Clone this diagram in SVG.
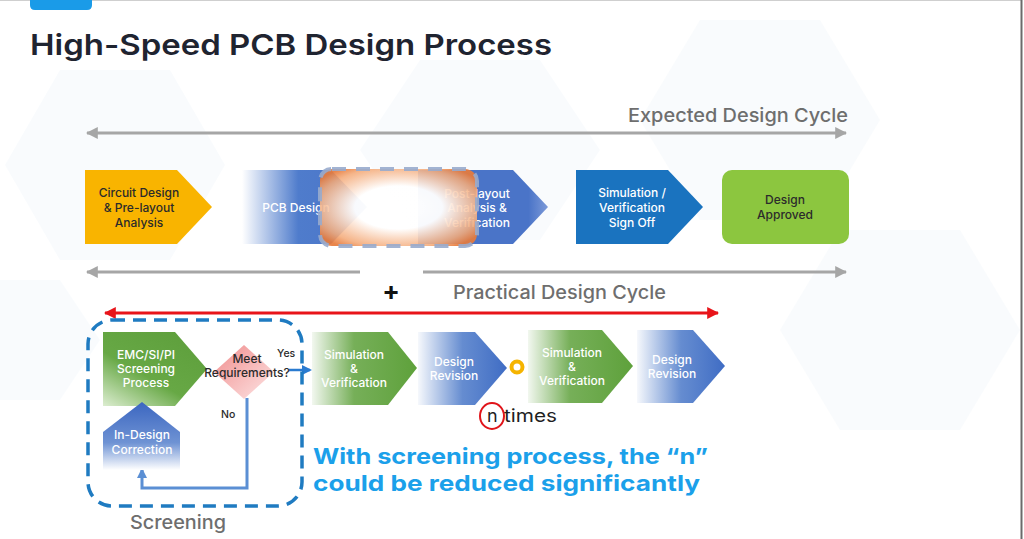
<svg xmlns="http://www.w3.org/2000/svg" width="1024" height="539" viewBox="0 0 1024 539">
<defs>
<style>
.t{font-family:Inter,"Open Sans","Liberation Sans",sans-serif;}
.lbl{font-family:Inter,"Liberation Sans",sans-serif;font-size:12px;font-weight:500;text-anchor:middle;}
.w{fill:#ffffff;}
.d{fill:#2b2b2b;}
.grey{fill:#6e6e6e;font-family:Inter,"Liberation Sans",sans-serif;font-weight:500;}
.garrow{stroke:#a6a6a6;stroke-width:3;fill:none;}
.hex{fill:#eaf3f9;opacity:0.3;}
</style>
<marker id="ga" viewBox="0 0 10 10" refX="9" refY="5" markerWidth="4" markerHeight="4" orient="auto-start-reverse" markerUnits="strokeWidth"><path d="M0,0 L10,5 L0,10 Z" fill="#a6a6a6"/></marker>
<marker id="ra" viewBox="0 0 10 10" refX="9" refY="5" markerWidth="4" markerHeight="4" orient="auto-start-reverse" markerUnits="strokeWidth"><path d="M0,0 L10,5 L0,10 Z" fill="#e8141a"/></marker>
<marker id="ba" viewBox="0 0 10 10" refX="8" refY="5" markerWidth="3.5" markerHeight="3.5" orient="auto" markerUnits="strokeWidth"><path d="M0,0 L10,5 L0,10 Z" fill="#5b8fd4"/></marker>
<marker id="ya" viewBox="0 0 10 10" refX="8" refY="5" markerWidth="4" markerHeight="4" orient="auto" markerUnits="strokeWidth"><path d="M0,0 L10,5 L0,10 Z" fill="#2a7bd0"/></marker>
<linearGradient id="gPcb" x1="0" y1="0" x2="1" y2="0"><stop offset="0" stop-color="#4f7ccc" stop-opacity="0"/><stop offset="0.45" stop-color="#4f7ccc"/><stop offset="1" stop-color="#4a74c8"/></linearGradient>
<linearGradient id="gPost" x1="0" y1="0" x2="1" y2="0"><stop offset="0" stop-color="#4a74c8"/><stop offset="0.85" stop-color="#4a74c8"/><stop offset="1" stop-color="#7d9ad8"/></linearGradient>
<linearGradient id="gGreen" x1="0" y1="0" x2="1" y2="0"><stop offset="0" stop-color="#5ea13b" stop-opacity="0.08"/><stop offset="0.4" stop-color="#5ea13b" stop-opacity="0.85"/><stop offset="1" stop-color="#5ea13b"/></linearGradient>
<linearGradient id="gBlue" x1="0" y1="0" x2="1" y2="0"><stop offset="0" stop-color="#4a78c8" stop-opacity="0.05"/><stop offset="0.5" stop-color="#4a78c8" stop-opacity="0.85"/><stop offset="1" stop-color="#3f6cc4"/></linearGradient>
<linearGradient id="gEmc" x1="0.8" y1="0" x2="0" y2="1"><stop offset="0" stop-color="#5e9f3c"/><stop offset="0.55" stop-color="#67a845"/><stop offset="1" stop-color="#dcedd0"/></linearGradient>
<linearGradient id="gInd" x1="0" y1="0" x2="0" y2="1"><stop offset="0" stop-color="#3b66c0"/><stop offset="0.6" stop-color="#6f93d4"/><stop offset="1" stop-color="#ffffff"/></linearGradient>
<linearGradient id="gPink" x1="0" y1="0" x2="1" y2="1"><stop offset="0" stop-color="#f08c8c"/><stop offset="1" stop-color="#fde6e6"/></linearGradient>
<radialGradient id="gBox" cx="0.5" cy="0.5" r="0.62"><stop offset="0" stop-color="#ffffff" stop-opacity="1"/><stop offset="0.45" stop-color="#ffffff" stop-opacity="0.96"/><stop offset="0.85" stop-color="#f4ab7a" stop-opacity="0.88"/><stop offset="1" stop-color="#e77b3c" stop-opacity="0.92"/></radialGradient>
</defs>

<rect x="0" y="0" width="1024" height="539" fill="#ffffff"/>
<g id="background">
<polygon class="hex" points="60,70 170,70 225,165 170,260 60,260 5,165"/>
<polygon class="hex" points="420,60 540,60 600,150 540,240 420,240 360,150"/>
<polygon class="hex" points="700,20 820,20 880,120 820,220 700,220 640,120"/>
<polygon class="hex" points="840,230 960,230 1020,330 960,430 840,430 780,330"/>
<polygon class="hex" points="0,280 60,280 100,340 60,400 0,400"/>
<line x1="0" y1="0.5" x2="1022" y2="0.5" stroke="#cfcfcf" stroke-width="1"/>
<line x1="1021.5" y1="0" x2="1021.5" y2="539" stroke="#6a6a6a" stroke-width="2"/>
</g>

<g id="header">
<path d="M30,0 H92 V5 Q92,10 87,10 H35 Q30,10 30,5 Z" fill="#1a9be8"/>
<text class="t" x="30" y="55" font-size="29" font-weight="600" fill="#1f2430" textLength="522" lengthAdjust="spacingAndGlyphs">High-Speed PCB Design Process</text>
</g>

<g id="connectors">
<line class="garrow" x1="87" y1="133" x2="846" y2="133" marker-start="url(#ga)" marker-end="url(#ga)"/>
<line class="garrow" x1="87" y1="272" x2="360" y2="272" marker-start="url(#ga)"/>
<line class="garrow" x1="423" y1="272" x2="846" y2="272" marker-end="url(#ga)"/>
<line x1="105" y1="313" x2="718" y2="313" stroke="#e8141a" stroke-width="3" marker-start="url(#ra)" marker-end="url(#ra)"/>
<path d="M247,398 V488 H142 V470" fill="none" stroke="#5b8fd4" stroke-width="3" marker-end="url(#ba)"/>
<line x1="289" y1="370" x2="310" y2="370" stroke="#2a7bd0" stroke-width="2.5" marker-end="url(#ya)"/>
</g>

<g id="labels">
<text class="grey" x="848" y="122" font-size="19" text-anchor="end" textLength="220" lengthAdjust="spacingAndGlyphs">Expected Design Cycle</text>
<text class="t" x="391" y="300" font-size="26" font-weight="700" fill="#111" text-anchor="middle">+</text>
<text class="grey" x="453" y="299" font-size="18.5" textLength="213" lengthAdjust="spacingAndGlyphs">Practical Design Cycle</text>
<text class="grey" x="130" y="529" font-size="19" textLength="96" lengthAdjust="spacingAndGlyphs">Screening</text>
</g>

<g id="n1-circuit">
<path d="M85,170 H177 L212,207 L177,244 H85 Z" fill="#f9b400"/>
<text class="lbl d" x="139" y="197">Circuit Design</text>
<text class="lbl d" x="139" y="212">&amp; Pre-layout</text>
<text class="lbl d" x="139" y="227">Analysis</text>
</g>

<g id="n2-pcb">
<path d="M242,170 H331 L367,207 L331,244 H242 Z" fill="url(#gPcb)"/>
<text class="lbl w" x="296" y="212">PCB Design</text>
</g>

<g id="n3-post">
<path d="M418,170 H513 L548,207 L513,244 H418 Z" fill="url(#gPost)"/>
<text class="lbl w" x="477" y="198">Post-layout</text>
<text class="lbl w" x="477" y="212">Analysis &amp;</text>
<text class="lbl w" x="477" y="227">Verification</text>
</g>

<g id="highlight-box">
<rect x="320" y="169" width="157" height="77" rx="12" fill="url(#gBox)" stroke="#98abcd" stroke-width="4" stroke-dasharray="14 10" stroke-opacity="0.9"/>
</g>

<g id="n4-signoff">
<path d="M576,170 H668 L703,207 L668,244 H576 Z" fill="#1a73bf"/>
<text class="lbl w" x="632" y="197">Simulation /</text>
<text class="lbl w" x="632" y="212">Verification</text>
<text class="lbl w" x="632" y="227">Sign Off</text>
</g>

<g id="n5-approved">
<rect x="722" y="170" width="127" height="74" rx="10" fill="#8cc63f"/>
<text class="lbl d" x="785" y="204" font-size="12.5">Design</text>
<text class="lbl d" x="785" y="219" font-size="12.5">Approved</text>
</g>

<g id="screening-box">
<rect x="88" y="320" width="214" height="186" rx="24" fill="none" stroke="#1f7bc1" stroke-width="3.5" stroke-dasharray="13 8"/>
</g>

<g id="n6-emc">
<path d="M103,332 H175 L207,369 L175,406 H103 Z" fill="url(#gEmc)"/>
<text class="lbl w" x="146" y="359">EMC/SI/PI</text>
<text class="lbl w" x="146" y="373">Screening</text>
<text class="lbl w" x="146" y="387">Process</text>
</g>

<g id="n7-meet">
<polygon points="244,345 274,372 244,399 214,372" fill="url(#gPink)"/>
<text class="lbl d" x="247" y="363" font-size="11">Meet</text>
<text class="lbl d" x="247" y="377" font-size="11">Requirements?</text>
<text class="t d" x="277" y="357" font-size="10.5" font-weight="500">Yes</text>
<text class="t d" x="221" y="418" font-size="10.5" font-weight="500">No</text>
</g>

<g id="n8-indesign">
<path d="M103,432 L142,402 L180,432 V470 H103 Z" fill="url(#gInd)"/>
<text class="lbl w" x="142" y="439">In-Design</text>
<text class="lbl w" x="142" y="454">Correction</text>
</g>

<g id="n9-sim1">
<path d="M312,332 H388 L417,368 L388,405 H312 Z" fill="url(#gGreen)"/>
<text class="lbl w" x="354" y="359">Simulation</text>
<text class="lbl w" x="354" y="373">&amp;</text>
<text class="lbl w" x="354" y="387">Verification</text>
</g>

<g id="n10-rev1">
<path d="M418,332 H475 L507,368 L475,405 H418 Z" fill="url(#gBlue)"/>
<text class="lbl w" x="454" y="366">Design</text>
<text class="lbl w" x="454" y="380">Revision</text>
</g>

<g id="n11-ring">
<circle cx="517" cy="367" r="5.5" fill="#ffffff" stroke="#f5b400" stroke-width="4"/>
</g>

<g id="n12-sim2">
<path d="M528,330 H602 L633,366 L602,403 H528 Z" fill="url(#gGreen)"/>
<text class="lbl w" x="572" y="357">Simulation</text>
<text class="lbl w" x="572" y="371">&amp;</text>
<text class="lbl w" x="572" y="385">Verification</text>
</g>

<g id="n13-rev2">
<path d="M637,330 H693 L725,366 L693,403 H637 Z" fill="url(#gBlue)"/>
<text class="lbl w" x="672" y="364">Design</text>
<text class="lbl w" x="672" y="378">Revision</text>
</g>

<g id="n14-ntimes">
<ellipse cx="492" cy="416" rx="12" ry="13" fill="none" stroke="#e0141a" stroke-width="2"/>
<text class="t" x="487" y="422" font-size="18" fill="#1f1f1f">n</text>
<text class="t" x="504" y="422" font-size="18" fill="#1f1f1f" textLength="53" lengthAdjust="spacingAndGlyphs">times</text>
</g>

<g id="note">
<text class="t" x="313" y="464" font-size="22" font-weight="700" fill="#1ba0ea" textLength="395" lengthAdjust="spacingAndGlyphs">With screening process, the “n”</text>
<text class="t" x="313" y="491" font-size="22" font-weight="700" fill="#1ba0ea" textLength="387" lengthAdjust="spacingAndGlyphs">could be reduced significantly</text>
</g>
</svg>
